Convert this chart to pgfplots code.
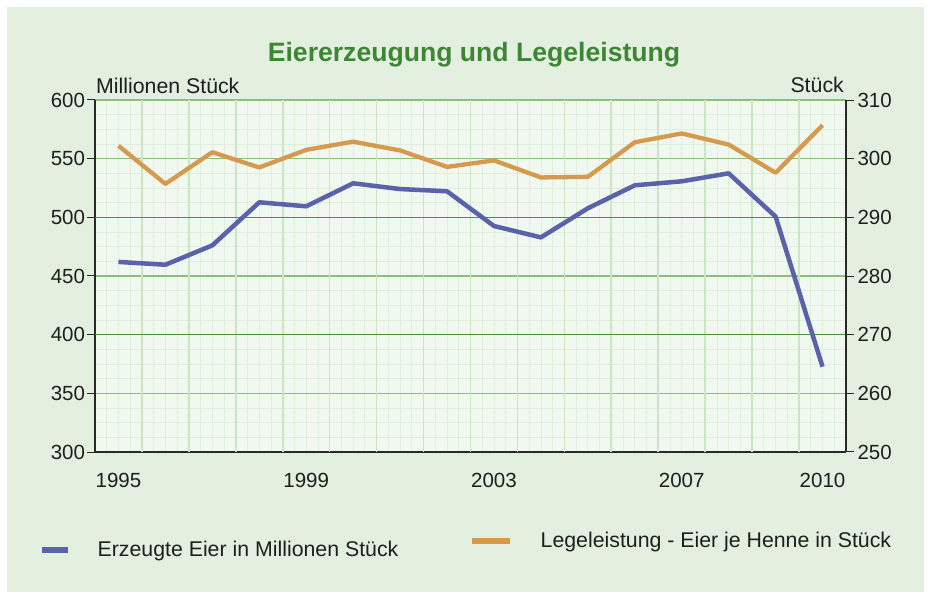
\documentclass[border=0pt]{standalone}
\usepackage{fontspec}
\setmainfont{Liberation Sans}
\usepackage{pgfplots}
\pgfplotsset{compat=1.18}
\definecolor{blueL}{RGB}{90,98,169}
\definecolor{orangeL}{RGB}{213,154,77}
\definecolor{panel}{RGB}{227,240,223}
\definecolor{plotbg}{RGB}{241,248,239}
\definecolor{titlegreen}{RGB}{61,135,52}
\definecolor{gridDark}{RGB}{80,145,65}
\definecolor{gridLight}{RGB}{140,190,125}
\definecolor{gridV}{RGB}{203,230,194}
\definecolor{gridMinor}{RGB}{224,239,219}
\definecolor{axisC}{RGB}{40,40,40}
\definecolor{txt}{RGB}{30,30,30}
\newcommand{\lf}{\fontsize{20.5bp}{24bp}\selectfont}
\newcommand{\tf}{\fontsize{21.3bp}{25bp}\selectfont}
\begin{document}
\begin{tikzpicture}
\fill[white] (0bp,0bp) rectangle (931bp,597bp);
\fill[panel] (7bp,5bp) rectangle (924bp,590bp);
\begin{axis}[
  at={(95bp,145bp)}, anchor=south west, scale only axis,
  width=751bp, height=352bp,
  xmin=1994.5, xmax=2010.5, ymin=300, ymax=600,
  axis background/.style={fill=plotbg},
  axis x line*=bottom, axis y line*=left,
  axis line style={draw=axisC, line width=1.3bp},
  xtick={1995,1999,2003,2007,2010},
  xticklabels={1995,1999,2003,2007,2010},
  xtick style={draw=none},
  xticklabel style={yshift=-10bp},
  ytick={300,350,...,600},
  ytick pos=left, tick align=outside,
  major tick length=8bp, minor tick length=0bp,
  ytick style={draw=axisC, line width=1bp},
  yticklabel style={xshift=1.5bp},
  ymajorgrids, major grid style={draw=gridLight, line width=1.6bp},
  minor y tick num=3, yminorgrids,
  minor xtick={1994.75,1995,...,2010.25}, xminorgrids,
  minor grid style={draw=gridMinor, line width=0.8bp},
  extra x ticks={1995.5,1996.5,...,2009.5},
  extra x tick labels={},
  extra x tick style={xmajorgrids=true, major grid style={draw=gridV, line width=1.6bp}, tick style={draw=none}},
  extra y ticks={400,500},
  extra y tick labels={},
  extra y tick style={ymajorgrids=true, major grid style={draw=gridDark, line width=1.3bp}, tick style={draw=none}},
  tick label style={font=\lf, text=txt},
  /pgf/number format/1000 sep={},
  /pgf/number format/assume math mode=true,
  legend style={draw=none, fill=none, font=\tf, text=txt, at={(-0.0746,-0.2784)}, anchor=west, inner sep=0pt, column sep=25bp},
  legend image code/.code={\draw[#1, line width=5.5bp] (0bp,0bp) -- (26bp,0bp);},
]
\addplot[blueL, line width=4.5bp, line join=round] coordinates {
(1995,462.0) (1996,459.6) (1997,476.1) (1998,512.8) (1999,509.4) (2000,529.0)
(2001,524.1) (2002,522.2) (2003,492.6) (2004,482.9) (2005,507.7) (2006,527.3)
(2007,530.7) (2008,537.5) (2009,500.6) (2010,372.7)};
\addlegendentry{Erzeugte Eier in Millionen Stück}
\end{axis}
\begin{axis}[
  at={(95bp,145bp)}, anchor=south west, scale only axis,
  width=751bp, height=352bp,
  xmin=1994.5, xmax=2010.5, ymin=250, ymax=310,
  axis x line=none, axis y line*=right,
  axis line style={draw=axisC, line width=1.3bp},
  ytick={250,260,...,310},
  tick align=outside, major tick length=8bp,
  ytick style={draw=axisC, line width=1bp},
  tick label style={font=\lf, text=txt},
  /pgf/number format/assume math mode=true,
  legend style={draw=none, fill=none, font=\tf, text=txt, at={(0.4980,-0.2528)}, anchor=west, inner sep=0pt, column sep=26bp},
  legend image code/.code={\draw[#1, line width=5.5bp] (0bp,0bp) -- (38bp,0bp);},
]
\addplot[orangeL, line width=4.3bp, line join=round] coordinates {
(1995,302.2) (1996,295.7) (1997,301.1) (1998,298.5) (1999,301.5) (2000,302.9)
(2001,301.4) (2002,298.6) (2003,299.7) (2004,296.8) (2005,296.9) (2006,302.8)
(2007,304.3) (2008,302.4) (2009,297.6) (2010,305.7)};
\addlegendentry{Legeleistung - Eier je Henne in Stück}
\end{axis}
\node[text=titlegreen, font=\fontsize{26.6bp}{30bp}\selectfont\bfseries] at (474bp,542bp) {Eiererzeugung und Legeleistung};
\node[anchor=west, text=txt, font=\tf, inner sep=0pt] at (96bp,511bp) {Millionen Stück};
\node[anchor=east, text=txt, font=\tf, inner sep=0pt] at (844bp,512bp) {Stück};
\end{tikzpicture}
\end{document}
